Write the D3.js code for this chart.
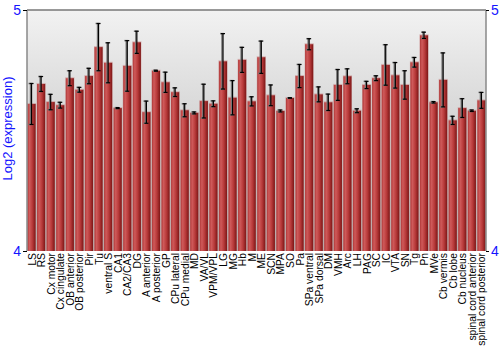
<!DOCTYPE html>
<html>
<head>
<meta charset="utf-8">
<script src="https://cdn.jsdelivr.net/npm/d3@7"></script>
<style>
    body { margin: 0; background: #fff; }
    #chart { width: 500px; height: 350px; }
    text { font-family: "Liberation Sans", Arial, sans-serif; }
</style>
</head>
<body>
<div id="chart"></div>
<script>
// brain regions on x axis
const regions = ["LS", "RS", "Cx motor", "Cx cingulate", "OB anterior", "OB posterior", "Pir", "Tu",
    "ventral S", "CA1", "CA2/CA3", "DG", "A anterior", "A posterior", "GP", "CPu lateral",
    "CPu medial", "MD", "VA/VL", "VPM/VPL", "LG", "MG", "Hb", "M", "ME", "SCN", "MPA", "SO",
    "Pa", "SPa ventral", "SPa dorsal", "DM", "VMH", "Arc", "LH", "PAG", "SC", "IC", "VTA",
    "SN", "Tg", "Pn", "MVe", "Cb vermis", "Cb lobe", "Cb nucleus", "spinal cord anterior",
    "spinal cord posterior"];

// mean log2 expression
const means = [4.610, 4.693, 4.618, 4.605, 4.717, 4.669, 4.726, 4.846,
    4.781, 4.593, 4.768, 4.866, 4.576, 4.748, 4.700, 4.659,
    4.584, 4.573, 4.622, 4.611, 4.787, 4.636, 4.793, 4.621, 4.804, 4.646, 4.581, 4.635,
    4.726, 4.858, 4.650, 4.617, 4.689, 4.725, 4.582, 4.689, 4.717, 4.772, 4.729,
    4.689, 4.783, 4.895, 4.617, 4.710, 4.542, 4.593, 4.582,
    4.625];

// error (half-width)
const errors = [0.085, 0.031, 0.032, 0.012, 0.031, 0.010, 0.032, 0.098,
    0.083, 0.002, 0.105, 0.046, 0.046, 0.002, 0.042, 0.018,
    0.027, 0.004, 0.070, 0.012, 0.115, 0.071, 0.052, 0.019, 0.067, 0.043, 0.004, 0.001,
    0.048, 0.023, 0.031, 0.034, 0.064, 0.031, 0.008, 0.015, 0.010, 0.084, 0.053,
    0.059, 0.020, 0.013, 0.003, 0.112, 0.017, 0.039, 0.003,
    0.033];

const yTicks = [4, 5];
const yTitle = "Log2 (expression)";

const data = regions.map((r, i) => ({ region: r, mean: means[i], err: errors[i] }));

const margin = { top: 10, right: 14, bottom: 99, left: 27 };
const width = 500 - margin.left - margin.right;
const height = 350 - margin.top - margin.bottom;

const svg = d3.select("#chart")
    .append("svg")
    .attr("width", 500)
    .attr("height", 350)
    .append("g")
    .attr("transform", `translate(${margin.left}, ${margin.top})`);

const defs = svg.append("defs");

const bg = defs.append("linearGradient")
    .attr("id", "bgGrad")
    .attr("x1", 0).attr("y1", 0).attr("x2", 0).attr("y2", 1);
bg.append("stop").attr("offset", "0%").attr("stop-color", "#f2f2f2");
bg.append("stop").attr("offset", "100%").attr("stop-color", "#b4b4b4");

const barGrad = defs.append("linearGradient")
    .attr("id", "barGrad")
    .attr("x1", 0).attr("y1", 0).attr("x2", 1).attr("y2", 0);
barGrad.append("stop").attr("offset", "0%").attr("stop-color", "#b03838");
barGrad.append("stop").attr("offset", "25%").attr("stop-color", "#cf5a5a");
barGrad.append("stop").attr("offset", "60%").attr("stop-color", "#b83a3a");
barGrad.append("stop").attr("offset", "100%").attr("stop-color", "#7c1616");

const x = d3.scaleBand()
    .domain(regions)
    .range([0, width])
    .paddingInner(0.15)
    .paddingOuter(0.05);

const y = d3.scaleLinear()
    .domain(d3.extent(yTicks))
    .range([height, 0]);

// background
svg.append("rect")
    .attr("width", width)
    .attr("height", height)
    .attr("fill", "url(#bgGrad)");

// bars
const bars = svg.append("g").attr("class", "bars");

bars.selectAll(".bar-shadow")
    .data(data)
    .enter()
    .append("rect")
    .attr("class", "bar-shadow")
    .attr("x", d => x(d.region) - 0.5)
    .attr("y", d => y(d.mean) - 1)
    .attr("width", x.bandwidth() + 1)
    .attr("height", d => y(4) - y(d.mean) + 1)
    .attr("fill", "#c89090")
    .attr("opacity", 0.6);

bars.selectAll(".bar")
    .data(data)
    .enter()
    .append("rect")
    .attr("class", "bar")
    .attr("x", d => x(d.region))
    .attr("y", d => y(d.mean))
    .attr("width", x.bandwidth())
    .attr("height", d => y(4) - y(d.mean))
    .attr("fill", "url(#barGrad)");

// error bars
const errG = svg.append("g").attr("class", "errors");
const cx = d => x(d.region) + x.bandwidth() / 2;
const capW = 2;

[{ dx: -1, col: "#777", w: 1.5 }, { dx: 0, col: "#000", w: 1.2 }].forEach(s => {
    const g = errG.append("g").attr("transform", `translate(${s.dx}, 0)`);
    g.selectAll(".stem")
        .data(data)
        .enter()
        .append("line")
        .attr("x1", cx).attr("x2", cx)
        .attr("y1", d => y(d.mean + d.err))
        .attr("y2", d => y(d.mean - d.err))
        .attr("stroke", s.col)
        .attr("stroke-width", s.w);
    g.selectAll(".capTop")
        .data(data)
        .enter()
        .append("line")
        .attr("x1", d => cx(d) - capW).attr("x2", d => cx(d) + capW)
        .attr("y1", d => y(d.mean + d.err))
        .attr("y2", d => y(d.mean + d.err))
        .attr("stroke", s.col)
        .attr("stroke-width", s.w);
    g.selectAll(".capBot")
        .data(data)
        .enter()
        .append("line")
        .attr("x1", d => cx(d) - capW).attr("x2", d => cx(d) + capW)
        .attr("y1", d => y(d.mean - d.err))
        .attr("y2", d => y(d.mean - d.err))
        .attr("stroke", s.col)
        .attr("stroke-width", s.w);
});

// frame
svg.append("line")
    .attr("x1", 0).attr("x2", width).attr("y1", 0).attr("y2", 0)
    .attr("stroke", "#777").attr("stroke-width", 1.5);
svg.append("line")
    .attr("x1", 0).attr("x2", 0).attr("y1", 0).attr("y2", height)
    .attr("stroke", "#888").attr("stroke-width", 1.5);
svg.append("line")
    .attr("x1", width).attr("x2", width).attr("y1", 0).attr("y2", height)
    .attr("stroke", "#888").attr("stroke-width", 1.5);

// y axes (left and right)
const styleAxis = g => {
    g.select(".domain").remove();
    g.selectAll(".tick line").attr("stroke", "#000");
    g.selectAll(".tick text")
        .attr("fill", "#1414ff")
        .style("font-size", "14px")
        .style("font-family", "'Liberation Sans', Arial, sans-serif");
};

svg.append("g")
    .attr("class", "axis axis--y")
    .call(d3.axisLeft(y).tickValues(yTicks).tickSize(4).tickPadding(2).tickFormat(d3.format("d")))
    .call(styleAxis);

svg.append("g")
    .attr("class", "axis axis--y2")
    .attr("transform", `translate(${width}, 0)`)
    .call(d3.axisRight(y).tickValues(yTicks).tickSize(3).tickPadding(2).tickFormat(d3.format("d")))
    .call(styleAxis);

// x labels
svg.append("g")
    .attr("class", "axis axis--x")
    .selectAll("text")
    .data(regions)
    .enter()
    .append("text")
    .attr("transform", d => `translate(${x(d) + x.bandwidth() / 2 + 4}, ${height + 2}) rotate(-90)`)
    .attr("text-anchor", "end")
    .style("font-size", "10.3px")
    .attr("fill", "#000")
    .text(d => d);

// y title
svg.append("text")
    .attr("transform", `translate(${-margin.left + 12}, ${height / 2 - 2}) rotate(-90)`)
    .attr("text-anchor", "middle")
    .style("font-size", "13px")
    .attr("fill", "#1414ff")
    .text(yTitle);
</script>
</body>
</html>
